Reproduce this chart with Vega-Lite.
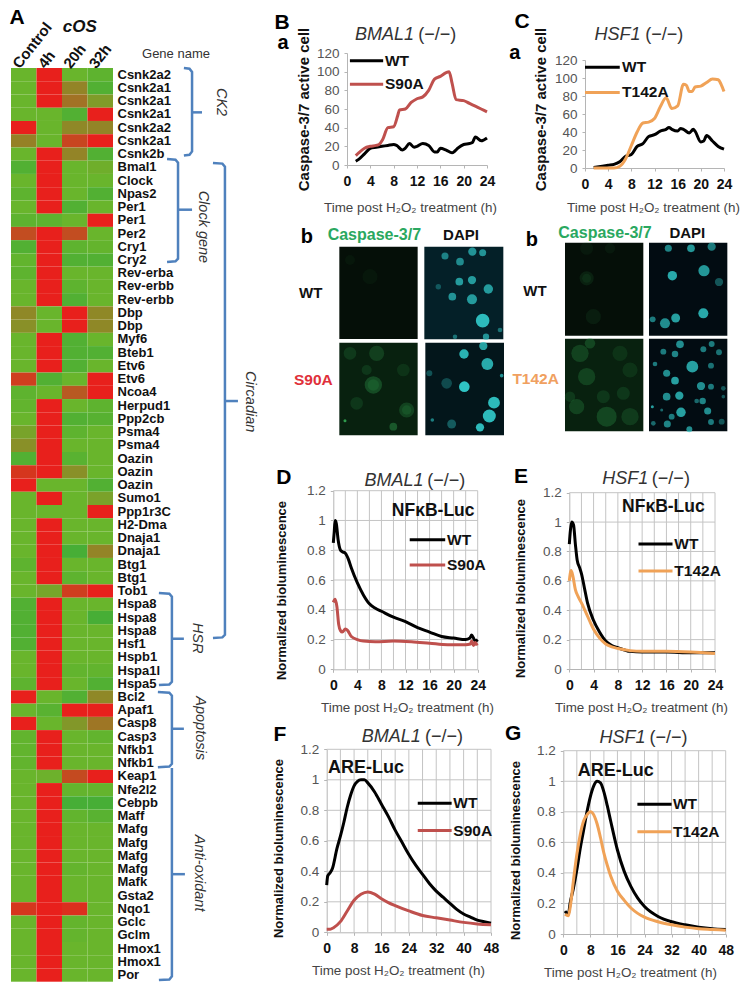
{"$schema":"https://vega.github.io/schema/vega-lite/v6.json","width":747,"height":997,"padding":0,"autosize":{"type":"none"},"background":"white",
"config":{"font":"Liberation Sans","view":{"stroke":null},"axis":{"grid":false,"domainColor":"#b5b5b5","tickColor":"#b5b5b5","tickSize":3,"labelOverlap":false,"labelFlush":false},
"axisX":{"labelFontWeight":"bold","labelFontSize":14,"labelColor":"#111111","labelPadding":6,"titleFontWeight":"normal","titleFontSize":13.4,"titleColor":"#444444"},
"axisY":{"labelFontSize":13.5,"labelColor":"#555555","labelPadding":5,"titleFontWeight":"bold","titleFontSize":13,"titleColor":"#111111"}},
"resolve":{"scale":{"x":"independent","y":"independent","fill":"independent"},"axis":{"x":"independent","y":"independent"}},
"layer":[
{"data":{"values":[
{"r":"01 Csnk2a2","c":"Control","v":0},{"r":"01 Csnk2a2","c":"4h","v":1},{"r":"01 Csnk2a2","c":"20h","v":0},{"r":"01 Csnk2a2","c":"32h","v":-0.05},
{"r":"02 Csnk2a1","c":"Control","v":0},{"r":"02 Csnk2a1","c":"4h","v":1},{"r":"02 Csnk2a1","c":"20h","v":0.33},{"r":"02 Csnk2a1","c":"32h","v":-0.1},
{"r":"03 Csnk2a1","c":"Control","v":0},{"r":"03 Csnk2a1","c":"4h","v":1},{"r":"03 Csnk2a1","c":"20h","v":0.45},{"r":"03 Csnk2a1","c":"32h","v":0.17},
{"r":"04 Csnk2a1","c":"Control","v":0},{"r":"04 Csnk2a1","c":"4h","v":0},{"r":"04 Csnk2a1","c":"20h","v":-0.1},{"r":"04 Csnk2a1","c":"32h","v":1},
{"r":"05 Csnk2a2","c":"Control","v":1},{"r":"05 Csnk2a2","c":"4h","v":0},{"r":"05 Csnk2a2","c":"20h","v":0.3},{"r":"05 Csnk2a2","c":"32h","v":0.33},
{"r":"06 Csnk2a1","c":"Control","v":0.35},{"r":"06 Csnk2a1","c":"4h","v":0},{"r":"06 Csnk2a1","c":"20h","v":0.75},{"r":"06 Csnk2a1","c":"32h","v":1},
{"r":"07 Csnk2b","c":"Control","v":0},{"r":"07 Csnk2b","c":"4h","v":1},{"r":"07 Csnk2b","c":"20h","v":0.33},{"r":"07 Csnk2b","c":"32h","v":-0.1},
{"r":"08 Bmal1","c":"Control","v":-0.1},{"r":"08 Bmal1","c":"4h","v":1},{"r":"08 Bmal1","c":"20h","v":0},{"r":"08 Bmal1","c":"32h","v":0.05},
{"r":"09 Clock","c":"Control","v":0},{"r":"09 Clock","c":"4h","v":1},{"r":"09 Clock","c":"20h","v":0},{"r":"09 Clock","c":"32h","v":0},
{"r":"10 Npas2","c":"Control","v":-0.05},{"r":"10 Npas2","c":"4h","v":1},{"r":"10 Npas2","c":"20h","v":0},{"r":"10 Npas2","c":"32h","v":-0.1},
{"r":"11 Per1","c":"Control","v":0},{"r":"11 Per1","c":"4h","v":1},{"r":"11 Per1","c":"20h","v":-0.1},{"r":"11 Per1","c":"32h","v":0},
{"r":"12 Per1","c":"Control","v":-0.05},{"r":"12 Per1","c":"4h","v":-0.05},{"r":"12 Per1","c":"20h","v":0},{"r":"12 Per1","c":"32h","v":1},
{"r":"13 Per2","c":"Control","v":0.7},{"r":"13 Per2","c":"4h","v":1},{"r":"13 Per2","c":"20h","v":0.7},{"r":"13 Per2","c":"32h","v":0},
{"r":"14 Cry1","c":"Control","v":-0.1},{"r":"14 Cry1","c":"4h","v":1},{"r":"14 Cry1","c":"20h","v":-0.05},{"r":"14 Cry1","c":"32h","v":-0.02},
{"r":"15 Cry2","c":"Control","v":-0.03},{"r":"15 Cry2","c":"4h","v":1},{"r":"15 Cry2","c":"20h","v":-0.1},{"r":"15 Cry2","c":"32h","v":-0.1},
{"r":"16 Rev-erba","c":"Control","v":-0.05},{"r":"16 Rev-erba","c":"4h","v":1},{"r":"16 Rev-erba","c":"20h","v":0},{"r":"16 Rev-erba","c":"32h","v":0},
{"r":"17 Rev-erbb","c":"Control","v":0},{"r":"17 Rev-erbb","c":"4h","v":1},{"r":"17 Rev-erbb","c":"20h","v":-0.05},{"r":"17 Rev-erbb","c":"32h","v":0},
{"r":"18 Rev-erbb","c":"Control","v":0},{"r":"18 Rev-erbb","c":"4h","v":1},{"r":"18 Rev-erbb","c":"20h","v":-0.1},{"r":"18 Rev-erbb","c":"32h","v":0},
{"r":"19 Dbp","c":"Control","v":0.3},{"r":"19 Dbp","c":"4h","v":0},{"r":"19 Dbp","c":"20h","v":1},{"r":"19 Dbp","c":"32h","v":0.3},
{"r":"20 Dbp","c":"Control","v":0.25},{"r":"20 Dbp","c":"4h","v":0},{"r":"20 Dbp","c":"20h","v":1},{"r":"20 Dbp","c":"32h","v":0.3},
{"r":"21 Myf6","c":"Control","v":0},{"r":"21 Myf6","c":"4h","v":1},{"r":"21 Myf6","c":"20h","v":-0.1},{"r":"21 Myf6","c":"32h","v":0},
{"r":"22 Bteb1","c":"Control","v":0},{"r":"22 Bteb1","c":"4h","v":1},{"r":"22 Bteb1","c":"20h","v":-0.1},{"r":"22 Bteb1","c":"32h","v":-0.1},
{"r":"23 Etv6","c":"Control","v":0},{"r":"23 Etv6","c":"4h","v":1},{"r":"23 Etv6","c":"20h","v":-0.1},{"r":"23 Etv6","c":"32h","v":0},
{"r":"24 Etv6","c":"Control","v":0.8},{"r":"24 Etv6","c":"4h","v":-0.1},{"r":"24 Etv6","c":"20h","v":0},{"r":"24 Etv6","c":"32h","v":1},
{"r":"25 Ncoa4","c":"Control","v":-0.05},{"r":"25 Ncoa4","c":"4h","v":0},{"r":"25 Ncoa4","c":"20h","v":0.62},{"r":"25 Ncoa4","c":"32h","v":1},
{"r":"26 Herpud1","c":"Control","v":-0.03},{"r":"26 Herpud1","c":"4h","v":1},{"r":"26 Herpud1","c":"20h","v":0},{"r":"26 Herpud1","c":"32h","v":-0.05},
{"r":"27 Ppp2cb","c":"Control","v":0},{"r":"27 Ppp2cb","c":"4h","v":1},{"r":"27 Ppp2cb","c":"20h","v":-0.1},{"r":"27 Ppp2cb","c":"32h","v":-0.08},
{"r":"28 Psma4","c":"Control","v":0.12},{"r":"28 Psma4","c":"4h","v":1},{"r":"28 Psma4","c":"20h","v":-0.05},{"r":"28 Psma4","c":"32h","v":0},
{"r":"29 Psma4","c":"Control","v":0.25},{"r":"29 Psma4","c":"4h","v":1},{"r":"29 Psma4","c":"20h","v":0},{"r":"29 Psma4","c":"32h","v":0},
{"r":"30 Oazin","c":"Control","v":-0.1},{"r":"30 Oazin","c":"4h","v":1},{"r":"30 Oazin","c":"20h","v":-0.07},{"r":"30 Oazin","c":"32h","v":0},
{"r":"31 Oazin","c":"Control","v":0.85},{"r":"31 Oazin","c":"4h","v":1},{"r":"31 Oazin","c":"20h","v":0.25},{"r":"31 Oazin","c":"32h","v":0},
{"r":"32 Oazin","c":"Control","v":1},{"r":"32 Oazin","c":"4h","v":0},{"r":"32 Oazin","c":"20h","v":0},{"r":"32 Oazin","c":"32h","v":-0.1},
{"r":"33 Sumo1","c":"Control","v":0},{"r":"33 Sumo1","c":"4h","v":1},{"r":"33 Sumo1","c":"20h","v":0},{"r":"33 Sumo1","c":"32h","v":0.13},
{"r":"34 Ppp1r3C","c":"Control","v":0},{"r":"34 Ppp1r3C","c":"4h","v":0},{"r":"34 Ppp1r3C","c":"20h","v":0},{"r":"34 Ppp1r3C","c":"32h","v":1},
{"r":"35 H2-Dma","c":"Control","v":0},{"r":"35 H2-Dma","c":"4h","v":1},{"r":"35 H2-Dma","c":"20h","v":0},{"r":"35 H2-Dma","c":"32h","v":0},
{"r":"36 Dnaja1","c":"Control","v":0},{"r":"36 Dnaja1","c":"4h","v":1},{"r":"36 Dnaja1","c":"20h","v":0},{"r":"36 Dnaja1","c":"32h","v":0},
{"r":"37 Dnaja1","c":"Control","v":0},{"r":"37 Dnaja1","c":"4h","v":1},{"r":"37 Dnaja1","c":"20h","v":-0.15},{"r":"37 Dnaja1","c":"32h","v":0.33},
{"r":"38 Btg1","c":"Control","v":-0.05},{"r":"38 Btg1","c":"4h","v":1},{"r":"38 Btg1","c":"20h","v":0},{"r":"38 Btg1","c":"32h","v":0},
{"r":"39 Btg1","c":"Control","v":0},{"r":"39 Btg1","c":"4h","v":1},{"r":"39 Btg1","c":"20h","v":-0.05},{"r":"39 Btg1","c":"32h","v":0},
{"r":"40 Tob1","c":"Control","v":0},{"r":"40 Tob1","c":"4h","v":0.1},{"r":"40 Tob1","c":"20h","v":0.8},{"r":"40 Tob1","c":"32h","v":1},
{"r":"41 Hspa8","c":"Control","v":-0.1},{"r":"41 Hspa8","c":"4h","v":1},{"r":"41 Hspa8","c":"20h","v":0},{"r":"41 Hspa8","c":"32h","v":0},
{"r":"42 Hspa8","c":"Control","v":-0.1},{"r":"42 Hspa8","c":"4h","v":1},{"r":"42 Hspa8","c":"20h","v":0},{"r":"42 Hspa8","c":"32h","v":-0.15},
{"r":"43 Hspa8","c":"Control","v":-0.1},{"r":"43 Hspa8","c":"4h","v":1},{"r":"43 Hspa8","c":"20h","v":0},{"r":"43 Hspa8","c":"32h","v":0},
{"r":"44 Hsf1","c":"Control","v":-0.1},{"r":"44 Hsf1","c":"4h","v":1},{"r":"44 Hsf1","c":"20h","v":0},{"r":"44 Hsf1","c":"32h","v":0},
{"r":"45 Hspb1","c":"Control","v":0},{"r":"45 Hspb1","c":"4h","v":1},{"r":"45 Hspb1","c":"20h","v":0},{"r":"45 Hspb1","c":"32h","v":0},
{"r":"46 Hspa1l","c":"Control","v":0},{"r":"46 Hspa1l","c":"4h","v":1},{"r":"46 Hspa1l","c":"20h","v":-0.03},{"r":"46 Hspa1l","c":"32h","v":-0.03},
{"r":"47 Hspa5","c":"Control","v":-0.05},{"r":"47 Hspa5","c":"4h","v":1},{"r":"47 Hspa5","c":"20h","v":0},{"r":"47 Hspa5","c":"32h","v":-0.1},
{"r":"48 Bcl2","c":"Control","v":1},{"r":"48 Bcl2","c":"4h","v":0},{"r":"48 Bcl2","c":"20h","v":-0.1},{"r":"48 Bcl2","c":"32h","v":0.3},
{"r":"49 Apaf1","c":"Control","v":0},{"r":"49 Apaf1","c":"4h","v":-0.07},{"r":"49 Apaf1","c":"20h","v":1},{"r":"49 Apaf1","c":"32h","v":1},
{"r":"50 Casp8","c":"Control","v":1},{"r":"50 Casp8","c":"4h","v":0},{"r":"50 Casp8","c":"20h","v":0.2},{"r":"50 Casp8","c":"32h","v":0.42},
{"r":"51 Casp3","c":"Control","v":-0.03},{"r":"51 Casp3","c":"4h","v":1},{"r":"51 Casp3","c":"20h","v":0},{"r":"51 Casp3","c":"32h","v":-0.03},
{"r":"52 Nfkb1","c":"Control","v":-0.03},{"r":"52 Nfkb1","c":"4h","v":1},{"r":"52 Nfkb1","c":"20h","v":0},{"r":"52 Nfkb1","c":"32h","v":0},
{"r":"53 Nfkb1","c":"Control","v":-0.03},{"r":"53 Nfkb1","c":"4h","v":1},{"r":"53 Nfkb1","c":"20h","v":0},{"r":"53 Nfkb1","c":"32h","v":0},
{"r":"54 Keap1","c":"Control","v":0},{"r":"54 Keap1","c":"4h","v":0.03},{"r":"54 Keap1","c":"20h","v":0.72},{"r":"54 Keap1","c":"32h","v":1},
{"r":"55 Nfe2l2","c":"Control","v":0},{"r":"55 Nfe2l2","c":"4h","v":1},{"r":"55 Nfe2l2","c":"20h","v":-0.02},{"r":"55 Nfe2l2","c":"32h","v":-0.02},
{"r":"56 Cebpb","c":"Control","v":0},{"r":"56 Cebpb","c":"4h","v":1},{"r":"56 Cebpb","c":"20h","v":-0.15},{"r":"56 Cebpb","c":"32h","v":-0.15},
{"r":"57 Maff","c":"Control","v":0},{"r":"57 Maff","c":"4h","v":1},{"r":"57 Maff","c":"20h","v":-0.03},{"r":"57 Maff","c":"32h","v":-0.07},
{"r":"58 Mafg","c":"Control","v":0},{"r":"58 Mafg","c":"4h","v":1},{"r":"58 Mafg","c":"20h","v":0},{"r":"58 Mafg","c":"32h","v":0},
{"r":"59 Mafg","c":"Control","v":0},{"r":"59 Mafg","c":"4h","v":1},{"r":"59 Mafg","c":"20h","v":0},{"r":"59 Mafg","c":"32h","v":0},
{"r":"60 Mafg","c":"Control","v":0},{"r":"60 Mafg","c":"4h","v":1},{"r":"60 Mafg","c":"20h","v":0},{"r":"60 Mafg","c":"32h","v":0},
{"r":"61 Mafg","c":"Control","v":0},{"r":"61 Mafg","c":"4h","v":1},{"r":"61 Mafg","c":"20h","v":-0.02},{"r":"61 Mafg","c":"32h","v":0},
{"r":"62 Mafk","c":"Control","v":0},{"r":"62 Mafk","c":"4h","v":1},{"r":"62 Mafk","c":"20h","v":0},{"r":"62 Mafk","c":"32h","v":0},
{"r":"63 Gsta2","c":"Control","v":0},{"r":"63 Gsta2","c":"4h","v":1},{"r":"63 Gsta2","c":"20h","v":0},{"r":"63 Gsta2","c":"32h","v":0},
{"r":"64 Nqo1","c":"Control","v":0.85},{"r":"64 Nqo1","c":"4h","v":1},{"r":"64 Nqo1","c":"20h","v":0.9},{"r":"64 Nqo1","c":"32h","v":0},
{"r":"65 Gclc","c":"Control","v":0},{"r":"65 Gclc","c":"4h","v":1},{"r":"65 Gclc","c":"20h","v":-0.02},{"r":"65 Gclc","c":"32h","v":0},
{"r":"66 Gclm","c":"Control","v":0},{"r":"66 Gclm","c":"4h","v":1},{"r":"66 Gclm","c":"20h","v":-0.02},{"r":"66 Gclm","c":"32h","v":0},
{"r":"67 Hmox1","c":"Control","v":0},{"r":"67 Hmox1","c":"4h","v":1},{"r":"67 Hmox1","c":"20h","v":0},{"r":"67 Hmox1","c":"32h","v":0},
{"r":"68 Hmox1","c":"Control","v":0},{"r":"68 Hmox1","c":"4h","v":1},{"r":"68 Hmox1","c":"20h","v":0},{"r":"68 Hmox1","c":"32h","v":0},
{"r":"69 Por","c":"Control","v":0},{"r":"69 Por","c":"4h","v":1},{"r":"69 Por","c":"20h","v":0},{"r":"69 Por","c":"32h","v":0}
]},"mark":{"type":"rect"},"encoding":{
"x":{"field":"c","type":"nominal","scale":{"type":"band","domain":["Control","4h","20h","32h"],"range":[11,113],"paddingInner":0,"paddingOuter":0},"axis":{"orient":"top","offset":-68,"title":null,"labelAngle":-52,"labelAlign":"left","labelBaseline":"middle","labelFontSize":15,"labelFontWeight":"bold","labelColor":"#111111","labelPadding":2,"labelOffset":-8,"ticks":false,"domain":false}},
"y":{"field":"r","type":"nominal","scale":{"type":"band","range":[68,981.7],"paddingInner":0,"paddingOuter":0},"axis":{"orient":"right","offset":-634,"title":null,"labelExpr":"slice(datum.value,3)","labelFontSize":13,"labelFontWeight":"bold","labelColor":"#111111","labelPadding":4,"ticks":false,"domain":false}},
"fill":{"field":"v","type":"quantitative","scale":{"domain":[-0.15,0,1],"range":["#47ae36","#69b52c","#e8201c"],"interpolate":"rgb"},"legend":null}}},

{"encoding":{"x":{"field":"cx","type":"quantitative","scale":{"domain":[0,4],"range":[11,113],"nice":false,"zero":false},"axis":null},"y":{"field":"ry","type":"quantitative","scale":{"domain":[0,69],"range":[68,981.7],"nice":false,"zero":false},"axis":null}},
"layer":[
{"data":{"values":[
{"b":"CK2","i":1,"cx":6.78,"ry":0},{"b":"CK2","i":2,"cx":7.0,"ry":0.05},{"b":"CK2","i":3,"cx":7.1,"ry":0.3},{"b":"CK2","i":4,"cx":7.1,"ry":6.3},{"b":"CK2","i":5,"cx":7.0,"ry":6.55},{"b":"CK2","i":6,"cx":6.78,"ry":6.6},
{"b":"CK2m","i":1,"cx":7.1,"ry":3.35},{"b":"CK2m","i":2,"cx":7.49,"ry":3.35},
{"b":"Clock","i":1,"cx":6.12,"ry":6.87},{"b":"Clock","i":2,"cx":6.45,"ry":6.92},{"b":"Clock","i":3,"cx":6.55,"ry":7.15},{"b":"Clock","i":4,"cx":6.55,"ry":14.4},{"b":"Clock","i":5,"cx":6.45,"ry":14.6},{"b":"Clock","i":6,"cx":6.12,"ry":14.65},
{"b":"Clockm","i":1,"cx":6.55,"ry":10.7},{"b":"Clockm","i":2,"cx":7.1,"ry":10.7},
{"b":"Circ","i":1,"cx":7.92,"ry":7.17},{"b":"Circ","i":2,"cx":8.29,"ry":7.22},{"b":"Circ","i":3,"cx":8.39,"ry":7.45},{"b":"Circ","i":4,"cx":8.39,"ry":42.8},{"b":"Circ","i":5,"cx":8.29,"ry":43},{"b":"Circ","i":6,"cx":7.92,"ry":43.05},
{"b":"Circm","i":1,"cx":8.39,"ry":25.15},{"b":"Circm","i":2,"cx":8.9,"ry":25.15},
{"b":"HSR","i":1,"cx":5.8,"ry":39.65},{"b":"HSR","i":2,"cx":6.21,"ry":39.7},{"b":"HSR","i":3,"cx":6.31,"ry":39.93},{"b":"HSR","i":4,"cx":6.31,"ry":46.35},{"b":"HSR","i":5,"cx":6.21,"ry":46.55},{"b":"HSR","i":6,"cx":5.8,"ry":46.6},
{"b":"HSRm","i":1,"cx":6.31,"ry":43.1},{"b":"HSRm","i":2,"cx":6.78,"ry":43.1},
{"b":"Apo","i":1,"cx":5.76,"ry":47.13},{"b":"Apo","i":2,"cx":6.21,"ry":47.18},{"b":"Apo","i":3,"cx":6.31,"ry":47.4},{"b":"Apo","i":4,"cx":6.31,"ry":52.55},{"b":"Apo","i":5,"cx":6.21,"ry":52.75},{"b":"Apo","i":6,"cx":5.76,"ry":52.8},
{"b":"Apom","i":1,"cx":6.31,"ry":49.9},{"b":"Apom","i":2,"cx":6.78,"ry":49.9},
{"b":"Anti","i":1,"cx":6.31,"ry":52.87},{"b":"Anti","i":2,"cx":6.31,"ry":68.6},{"b":"Anti","i":3,"cx":6.21,"ry":68.83},{"b":"Anti","i":4,"cx":5.8,"ry":68.88},
{"b":"Antim","i":1,"cx":6.31,"ry":60.88},{"b":"Antim","i":2,"cx":6.82,"ry":60.88}
]},"mark":{"type":"line","color":"#4f81bd","strokeWidth":2.5},"encoding":{"detail":{"field":"b"},"order":{"field":"i","type":"quantitative"}}},
{"data":{"values":[{"cx":8.24,"ry":2.57,"l":"CK2"},{"cx":7.53,"ry":12,"l":"Clock gene"},{"cx":9.37,"ry":25.2,"l":"Circadian"},{"cx":7.29,"ry":43.05,"l":"HSR"},{"cx":7.41,"ry":49.85,"l":"Apoptosis"},{"cx":7.37,"ry":60.8,"l":"Anti-oxidant"}]},"mark":{"type":"text","angle":90,"fontStyle":"italic","fontSize":14.5,"color":"#333333","align":"center","baseline":"middle"},"encoding":{"text":{"field":"l"}}},
{"data":{"values":[{"cx":6.47,"ry":-1.06,"l":"Gene name"}]},"mark":{"type":"text","fontSize":13,"color":"#333333"},"encoding":{"text":{"field":"l"}}},
{"data":{"values":[{"cx":2.7,"ry":-3.1,"l":"cOS"}]},"mark":{"type":"text","fontSize":17,"fontStyle":"italic","fontWeight":"bold","color":"#111111"},"encoding":{"text":{"field":"l"}}},
{"data":{"values":[{"cx":0.24,"ry":-3.78,"l":"A"},{"cx":10.63,"ry":-3.4,"l":"B"},{"cx":20.04,"ry":-3.47,"l":"C"},{"cx":10.7,"ry":30.97,"l":"D"},{"cx":20,"ry":30.9,"l":"E"},{"cx":10.55,"ry":50.4,"l":"F"},{"cx":19.69,"ry":50.3,"l":"G"}]},"mark":{"type":"text","fontSize":21,"fontWeight":"bold","color":"#000000"},"encoding":{"text":{"field":"l"}}},
{"data":{"values":[{"cx":10.67,"ry":-1.89,"l":"a"},{"cx":19.76,"ry":-1.13,"l":"a"},{"cx":11.6,"ry":12.76,"l":"b"},{"cx":20.43,"ry":12.99,"l":"b"}]},"mark":{"type":"text","fontSize":20,"fontWeight":"bold","color":"#000000"},"encoding":{"text":{"field":"l"}}}
]},

{"encoding":{"x":{"field":"mx","type":"quantitative","scale":{"domain":[208,1372],"range":[339.33,727.33],"nice":false,"zero":false},"axis":null},"y":{"field":"my","type":"quantitative","scale":{"domain":[68,646],"range":[242.67,435.33],"nice":false,"zero":false},"axis":null}},
"layer":[
{"data":{"values":[
{"mx":208,"mx2":443,"my":80,"my2":357,"k":"caspase low"},{"mx":463,"mx2":700,"my":80,"my2":358,"k":"dapi"},
{"mx":208,"mx2":443,"my":368,"my2":646,"k":"caspase high"},{"mx":466,"mx2":702,"my":368,"my2":646,"k":"dapi2"},
{"mx":885,"mx2":1120,"my":68,"my2":347,"k":"caspase low"},{"mx":1137,"mx2":1372,"my":68,"my2":347,"k":"dapi dark"},
{"mx":885,"mx2":1120,"my":356,"my2":634,"k":"caspase high"},{"mx":1137,"mx2":1372,"my":356,"my2":634,"k":"dapi dark"}
]},"mark":{"type":"rect"},"encoding":{"x2":{"field":"mx2"},"y2":{"field":"my2"},"fill":{"field":"k","type":"nominal","scale":{"domain":["caspase low","caspase high","dapi","dapi2","dapi dark"],"range":["#050f08","#08210f","#042028","#03161b","#020c12"]},"legend":null}}},
{"data":{"values":[
{"mx":300,"my":170,"s":230,"o":0.06},{"mx":240,"my":120,"s":100,"o":0.06},{"mx":320,"my":400,"s":230,"o":0.25},{"mx":310,"my":495,"s":300,"o":0.35},{"mx":310,"my":495,"s":130,"o":0.2},{"mx":410,"my":570,"s":230,"o":0.28},{"mx":410,"my":570,"s":90,"o":0.2},{"mx":370,"my":620,"s":60,"o":0.45},{"mx":225,"my":602,"s":9,"o":1},{"mx":260,"my":550,"s":160,"o":0.18},{"mx":240,"my":400,"s":160,"o":0.2},{"mx":400,"my":450,"s":160,"o":0.15},{"mx":290,"my":450,"s":100,"o":0.18},
{"mx":950,"my":175,"s":200,"o":0.13},{"mx":950,"my":175,"s":80,"o":0.1},{"mx":970,"my":290,"s":230,"o":0.1},{"mx":950,"my":85,"s":170,"o":0.08},{"mx":1020,"my":85,"s":110,"o":0.08},
{"mx":930,"my":400,"s":300,"o":0.28},{"mx":1050,"my":400,"s":230,"o":0.15},{"mx":950,"my":470,"s":300,"o":0.28},{"mx":1080,"my":450,"s":230,"o":0.15},{"mx":920,"my":560,"s":230,"o":0.28},{"mx":1010,"my":590,"s":400,"o":0.3},{"mx":1080,"my":590,"s":300,"o":0.22},{"mx":1000,"my":530,"s":170,"o":0.18},{"mx":1060,"my":520,"s":170,"o":0.18},{"mx":900,"my":530,"s":110,"o":0.2},{"mx":960,"my":370,"s":110,"o":0.3}
]},"mark":{"type":"circle","color":"#2f9a4c"},"encoding":{"size":{"field":"s","type":"quantitative","scale":null},"opacity":{"field":"o","type":"quantitative","scale":null}}},
{"data":{"values":[
{"mx":607,"my":95,"s":68,"o":0.7},{"mx":638,"my":98,"s":50,"o":0.7},{"mx":525,"my":108,"s":50,"o":0.6},{"mx":570,"my":125,"s":59,"o":0.65},{"mx":568,"my":185,"s":59,"o":0.75},{"mx":606,"my":180,"s":68,"o":0.75},{"mx":655,"my":207,"s":89,"o":0.75},{"mx":547,"my":230,"s":59,"o":0.7},{"mx":606,"my":238,"s":101,"o":0.75},{"mx":638,"my":302,"s":185,"o":0.95},{"mx":505,"my":200,"s":30,"o":0.35},{"mx":690,"my":330,"s":22,"o":0.5},{"mx":648,"my":350,"s":40,"o":0.7},{"mx":555,"my":350,"s":20,"o":0.5},
{"mx":582,"my":402,"s":89,"o":0.9},{"mx":640,"my":378,"s":68,"o":0.8},{"mx":652,"my":432,"s":140,"o":0.85},{"mx":583,"my":500,"s":113,"o":1},{"mx":672,"my":548,"s":140,"o":0.95},{"mx":658,"my":588,"s":169,"o":0.95},{"mx":630,"my":622,"s":68,"o":0.95},{"mx":478,"my":460,"s":35,"o":0.35},{"mx":530,"my":490,"s":113,"o":0.3},{"mx":545,"my":612,"s":79,"o":0.4},{"mx":695,"my":467,"s":13,"o":0.7},{"mx":487,"my":600,"s":13,"o":0.6},
{"mx":1195,"my":85,"s":50,"o":0.65},{"mx":1263,"my":85,"s":59,"o":0.75},{"mx":1325,"my":80,"s":68,"o":0.6},{"mx":1207,"my":167,"s":89,"o":0.85},{"mx":1302,"my":152,"s":126,"o":0.75},{"mx":1347,"my":186,"s":68,"o":0.4},{"mx":1300,"my":280,"s":101,"o":0.85},{"mx":1217,"my":294,"s":79,"o":0.8},{"mx":1185,"my":310,"s":101,"o":0.7},{"mx":1148,"my":298,"s":35,"o":0.6},
{"mx":1230,"my":373,"s":59,"o":0.7},{"mx":1180,"my":395,"s":35,"o":0.6},{"mx":1215,"my":402,"s":42,"o":0.65},{"mx":1300,"my":388,"s":35,"o":0.6},{"mx":1325,"my":372,"s":35,"o":0.6},{"mx":1347,"my":397,"s":35,"o":0.55},{"mx":1267,"my":440,"s":140,"o":0.8},{"mx":1155,"my":432,"s":22,"o":0.6},{"mx":1190,"my":460,"s":50,"o":0.7},{"mx":1215,"my":482,"s":59,"o":0.8},{"mx":1323,"my":437,"s":35,"o":0.55},{"mx":1293,"my":498,"s":68,"o":0.7},{"mx":1323,"my":500,"s":35,"o":0.6},{"mx":1360,"my":505,"s":22,"o":0.4},{"mx":1190,"my":530,"s":59,"o":0.7},{"mx":1228,"my":527,"s":68,"o":0.8},{"mx":1280,"my":543,"s":22,"o":0.5},{"mx":1298,"my":543,"s":42,"o":0.65},{"mx":1360,"my":530,"s":13,"o":0.4},{"mx":1233,"my":577,"s":89,"o":0.8},{"mx":1205,"my":590,"s":35,"o":0.6},{"mx":1313,"my":573,"s":50,"o":0.7},{"mx":1147,"my":560,"s":9,"o":0.8},{"mx":1150,"my":610,"s":22,"o":0.5},{"mx":1192,"my":612,"s":50,"o":0.65},{"mx":1258,"my":628,"s":35,"o":0.7},{"mx":1323,"my":606,"s":35,"o":0.6},{"mx":1355,"my":605,"s":35,"o":0.4},{"mx":1175,"my":570,"s":9,"o":0.5}
]},"mark":{"type":"circle","color":"#2fc4c4"},"encoding":{"size":{"field":"s","type":"quantitative","scale":null},"opacity":{"field":"o","type":"quantitative","scale":null}}},
{"data":{"values":[{"mx":313,"my":45,"l":"Caspase-3/7"},{"mx":1005,"my":40,"l":"Caspase-3/7"}]},"mark":{"type":"text","fontSize":16,"fontWeight":"bold","color":"#2aa860"},"encoding":{"text":{"field":"l"}}},
{"data":{"values":[{"mx":573,"my":45,"l":"DAPI"},{"mx":1252,"my":40,"l":"DAPI"},{"mx":122,"my":220,"l":"WT"},{"mx":795,"my":212,"l":"WT"}]},"mark":{"type":"text","fontSize":15,"fontWeight":"bold","color":"#111111"},"encoding":{"text":{"field":"l"}}},
{"data":{"values":[{"mx":130,"my":480,"l":"S90A"}]},"mark":{"type":"text","fontSize":15.5,"fontWeight":"bold","color":"#e0303a"},"encoding":{"text":{"field":"l"}}},
{"data":{"values":[{"mx":797,"my":478,"l":"T142A"}]},"mark":{"type":"text","fontSize":15.5,"fontWeight":"bold","color":"#f0a060"},"encoding":{"text":{"field":"l"}}}
]},

{"encoding":{"x":{"field":"t","type":"quantitative","scale":{"domain":[0,24],"range":[347,487],"nice":false},"axis":{"orient":"bottom","offset":-832,"values":[0,4,8,12,16,20,24],"title":"Time post H₂O₂ treatment (h)","titleX":410,"titleY":35}},"y":{"field":"v","type":"quantitative","scale":{"domain":[0,120],"range":[165,53],"nice":false},"axis":{"orient":"left","offset":-347,"values":[0,20,40,60,80,100,120],"title":"Caspase-3/7 active cell","titleX":-36,"titleY":109,"titleFontSize":15}}},
"layer":[
{"data":{"values":[
{"s":"WT","t":1.5,"v":4},{"s":"WT","t":2,"v":6},{"s":"WT","t":3,"v":12},{"s":"WT","t":4,"v":18},{"s":"WT","t":5,"v":19},{"s":"WT","t":6,"v":20},{"s":"WT","t":7,"v":21},{"s":"WT","t":8,"v":22},{"s":"WT","t":8.5,"v":21},{"s":"WT","t":9.5,"v":16},{"s":"WT","t":10,"v":18},{"s":"WT","t":10.7,"v":23},{"s":"WT","t":11.5,"v":19},{"s":"WT","t":12,"v":20},{"s":"WT","t":13,"v":23},{"s":"WT","t":14,"v":21},{"s":"WT","t":15,"v":14},{"s":"WT","t":15.5,"v":14},{"s":"WT","t":16,"v":18},{"s":"WT","t":17,"v":16},{"s":"WT","t":18,"v":13},{"s":"WT","t":18.5,"v":15},{"s":"WT","t":19,"v":18},{"s":"WT","t":20,"v":22},{"s":"WT","t":21,"v":23},{"s":"WT","t":21.5,"v":24},{"s":"WT","t":22,"v":30},{"s":"WT","t":23,"v":26},{"s":"WT","t":24,"v":29},
{"s":"S90A","t":1.5,"v":10},{"s":"S90A","t":2,"v":13},{"s":"S90A","t":3,"v":18},{"s":"S90A","t":4,"v":20},{"s":"S90A","t":5,"v":21},{"s":"S90A","t":5.5,"v":22},{"s":"S90A","t":6.1,"v":27},{"s":"S90A","t":7,"v":40},{"s":"S90A","t":8,"v":41},{"s":"S90A","t":8.7,"v":53},{"s":"S90A","t":9,"v":59},{"s":"S90A","t":10,"v":60},{"s":"S90A","t":11,"v":67},{"s":"S90A","t":12,"v":71},{"s":"S90A","t":13,"v":73},{"s":"S90A","t":14,"v":80},{"s":"S90A","t":15,"v":92},{"s":"S90A","t":16,"v":95},{"s":"S90A","t":17,"v":99},{"s":"S90A","t":17.5,"v":100},{"s":"S90A","t":18,"v":88},{"s":"S90A","t":18.7,"v":70},{"s":"S90A","t":20,"v":69},{"s":"S90A","t":21,"v":66},{"s":"S90A","t":22,"v":63},{"s":"S90A","t":23,"v":60},{"s":"S90A","t":24,"v":57}
]},"mark":{"type":"line","strokeWidth":3,"interpolate":"monotone"},"encoding":{"color":{"field":"s","type":"nominal","scale":{"domain":["WT","S90A","T142A"],"range":["#000000","#bf504d","#f0a257"]},"legend":null}}},
{"data":{"values":[{"s":"WT","t":0.5,"v":111.7},{"s":"WT","t":6.2,"v":111.7},{"s":"S90A","t":0.5,"v":86.5},{"s":"S90A","t":6.2,"v":86.5}]},"mark":{"type":"line","strokeWidth":3},"encoding":{"color":{"field":"s","type":"nominal","legend":null}}},
{"data":{"values":[{"t":6.5,"v":111.7,"l":"WT"},{"t":6.5,"v":86.5,"l":"S90A"}]},"mark":{"type":"text","align":"left","fontSize":15.5,"fontWeight":"bold","color":"#111111"},"encoding":{"text":{"field":"l"}}},
{"data":{"values":[{"t":11.5,"v":139.5,"l":"BMAL1"}]},"mark":{"type":"text","align":"right","fontSize":18,"fontStyle":"italic","color":"#333333"},"encoding":{"text":{"field":"l"}}},
{"data":{"values":[{"t":12.2,"v":139.5,"l":"(−/−)"}]},"mark":{"type":"text","align":"left","fontSize":18,"color":"#333333"},"encoding":{"text":{"field":"l"}}}
]},

{"encoding":{"x":{"field":"t","type":"quantitative","scale":{"domain":[0,24],"range":[585,724],"nice":false},"axis":{"orient":"bottom","offset":-829,"values":[0,4,8,12,16,20,24],"title":"Time post H₂O₂ treatment (h)","titleX":653,"titleY":32}},"y":{"field":"v","type":"quantitative","scale":{"domain":[0,120],"range":[168,60],"nice":false},"axis":{"orient":"left","offset":-585,"values":[0,20,40,60,80,100,120],"title":"Caspase-3/7 active cell","titleX":-37,"titleY":109,"titleFontSize":15}}},
"layer":[
{"data":{"values":[
{"s":"WT","t":1.5,"v":0.5},{"s":"WT","t":3,"v":2},{"s":"WT","t":4,"v":3},{"s":"WT","t":5,"v":4},{"s":"WT","t":6,"v":7},{"s":"WT","t":7,"v":13},{"s":"WT","t":7.5,"v":14},{"s":"WT","t":8,"v":15},{"s":"WT","t":9,"v":24},{"s":"WT","t":10,"v":27},{"s":"WT","t":11,"v":35},{"s":"WT","t":12,"v":37},{"s":"WT","t":13,"v":41},{"s":"WT","t":14,"v":43},{"s":"WT","t":14.5,"v":45},{"s":"WT","t":15,"v":43},{"s":"WT","t":16,"v":41},{"s":"WT","t":16.5,"v":44},{"s":"WT","t":17,"v":43},{"s":"WT","t":18,"v":39},{"s":"WT","t":18.7,"v":43},{"s":"WT","t":19,"v":41},{"s":"WT","t":20,"v":29},{"s":"WT","t":20.5,"v":30},{"s":"WT","t":21,"v":36},{"s":"WT","t":22,"v":30},{"s":"WT","t":23,"v":24},{"s":"WT","t":24,"v":21},
{"s":"T142A","t":1.5,"v":0},{"s":"T142A","t":3,"v":0},{"s":"T142A","t":5,"v":0},{"s":"T142A","t":6,"v":2},{"s":"T142A","t":7,"v":10},{"s":"T142A","t":8,"v":25},{"s":"T142A","t":9,"v":40},{"s":"T142A","t":10,"v":50},{"s":"T142A","t":11,"v":51},{"s":"T142A","t":12,"v":55},{"s":"T142A","t":13,"v":68},{"s":"T142A","t":14,"v":78},{"s":"T142A","t":15,"v":66},{"s":"T142A","t":16,"v":69},{"s":"T142A","t":17,"v":93},{"s":"T142A","t":17.5,"v":92},{"s":"T142A","t":18,"v":85},{"s":"T142A","t":18.5,"v":85},{"s":"T142A","t":19,"v":90},{"s":"T142A","t":20,"v":91},{"s":"T142A","t":21,"v":95},{"s":"T142A","t":22,"v":99},{"s":"T142A","t":23,"v":98},{"s":"T142A","t":23.5,"v":93},{"s":"T142A","t":24,"v":85}
]},"mark":{"type":"line","strokeWidth":3,"interpolate":"monotone"},"encoding":{"color":{"field":"s","type":"nominal","legend":null}}},
{"data":{"values":[{"s":"WT","t":0,"v":112},{"s":"WT","t":6,"v":112},{"s":"T142A","t":0,"v":84},{"s":"T142A","t":6,"v":84}]},"mark":{"type":"line","strokeWidth":3},"encoding":{"color":{"field":"s","type":"nominal","legend":null}}},
{"data":{"values":[{"t":6.4,"v":112,"l":"WT"},{"t":6.4,"v":84,"l":"T142A"}]},"mark":{"type":"text","align":"left","fontSize":15.5,"fontWeight":"bold","color":"#111111"},"encoding":{"text":{"field":"l"}}},
{"data":{"values":[{"t":9.6,"v":147.7,"l":"HSF1"}]},"mark":{"type":"text","align":"right","fontSize":18,"fontStyle":"italic","color":"#333333"},"encoding":{"text":{"field":"l"}}},
{"data":{"values":[{"t":10.4,"v":147.7,"l":"(−/−)"}]},"mark":{"type":"text","align":"left","fontSize":18,"color":"#333333"},"encoding":{"text":{"field":"l"}}}
]},

{"encoding":{"x":{"field":"t","type":"quantitative","scale":{"domain":[0,24],"range":[333.3,477.7],"nice":false},"axis":{"orient":"bottom","offset":-327.7,"values":[0,4,8,12,16,20,24],"title":"Time post H₂O₂ treatment (h)","titleX":407,"titleY":31}},"y":{"field":"v","type":"quantitative","scale":{"domain":[0,1.2],"range":[669.3,490.7],"nice":false},"axis":{"orient":"left","offset":-333.3,"values":[0,0.2,0.4,0.6,0.8,1,1.2],"format":"~g","title":"Normalized bioluminescence","titleX":-45,"titleY":590}}},
"layer":[
{"data":{"values":[{"t":2,"t2":2,"v":0,"v2":1.2},{"t":4,"t2":4,"v":0,"v2":1.2},{"t":6,"t2":6,"v":0,"v2":1.2},{"t":8,"t2":8,"v":0,"v2":1.2},{"t":10,"t2":10,"v":0,"v2":1.2},{"t":12,"t2":12,"v":0,"v2":1.2},{"t":14,"t2":14,"v":0,"v2":1.2},{"t":16,"t2":16,"v":0,"v2":1.2},{"t":18,"t2":18,"v":0,"v2":1.2},{"t":20,"t2":20,"v":0,"v2":1.2},{"t":22,"t2":22,"v":0,"v2":1.2},{"t":24,"t2":24,"v":0,"v2":1.2},{"t":0,"t2":24,"v":0.2,"v2":0.2},{"t":0,"t2":24,"v":0.4,"v2":0.4},{"t":0,"t2":24,"v":0.6,"v2":0.6},{"t":0,"t2":24,"v":0.8,"v2":0.8},{"t":0,"t2":24,"v":1,"v2":1},{"t":0,"t2":24,"v":1.2,"v2":1.2}]},"mark":{"type":"rule","color":"#c4c4c4","strokeWidth":1},"encoding":{"x2":{"field":"t2"},"y2":{"field":"v2"}}},
{"data":{"values":[
{"s":"WT","t":0,"v":0.85},{"s":"WT","t":0.15,"v":0.92},{"s":"WT","t":0.3,"v":1},{"s":"WT","t":0.5,"v":0.98},{"s":"WT","t":0.8,"v":0.87},{"s":"WT","t":1.2,"v":0.8},{"s":"WT","t":1.5,"v":0.79},{"s":"WT","t":2,"v":0.78},{"s":"WT","t":2.5,"v":0.74},{"s":"WT","t":3,"v":0.68},{"s":"WT","t":4,"v":0.58},{"s":"WT","t":5,"v":0.5},{"s":"WT","t":6,"v":0.44},{"s":"WT","t":7,"v":0.41},{"s":"WT","t":8,"v":0.39},{"s":"WT","t":10,"v":0.35},{"s":"WT","t":12,"v":0.32},{"s":"WT","t":14,"v":0.28},{"s":"WT","t":16,"v":0.25},{"s":"WT","t":18,"v":0.22},{"s":"WT","t":20,"v":0.21},{"s":"WT","t":22,"v":0.2},{"s":"WT","t":22.7,"v":0.21},{"s":"WT","t":23,"v":0.23},{"s":"WT","t":23.3,"v":0.21},{"s":"WT","t":23.6,"v":0.19},{"s":"WT","t":24,"v":0.2},
{"s":"S90A","t":0,"v":0.45},{"s":"S90A","t":0.3,"v":0.47},{"s":"S90A","t":0.6,"v":0.42},{"s":"S90A","t":0.9,"v":0.3},{"s":"S90A","t":1.2,"v":0.26},{"s":"S90A","t":1.5,"v":0.25},{"s":"S90A","t":2,"v":0.27},{"s":"S90A","t":2.4,"v":0.26},{"s":"S90A","t":3,"v":0.22},{"s":"S90A","t":4,"v":0.2},{"s":"S90A","t":5,"v":0.19},{"s":"S90A","t":7,"v":0.185},{"s":"S90A","t":10,"v":0.19},{"s":"S90A","t":13,"v":0.185},{"s":"S90A","t":16,"v":0.175},{"s":"S90A","t":19,"v":0.165},{"s":"S90A","t":22,"v":0.165},{"s":"S90A","t":22.8,"v":0.17},{"s":"S90A","t":23,"v":0.19},{"s":"S90A","t":23.3,"v":0.16},{"s":"S90A","t":23.6,"v":0.18},{"s":"S90A","t":23.9,"v":0.16}
]},"mark":{"type":"line","strokeWidth":3,"interpolate":"monotone"},"encoding":{"color":{"field":"s","type":"nominal","legend":null}}},
{"data":{"values":[{"s":"WT","t":12.7,"v":0.87},{"s":"WT","t":18.6,"v":0.87},{"s":"S90A","t":12.7,"v":0.7},{"s":"S90A","t":18.6,"v":0.7}]},"mark":{"type":"line","strokeWidth":3},"encoding":{"color":{"field":"s","type":"nominal","legend":null}}},
{"data":{"values":[{"t":18.9,"v":0.87,"l":"WT"},{"t":18.9,"v":0.7,"l":"S90A"}]},"mark":{"type":"text","align":"left","fontSize":15.5,"fontWeight":"bold","color":"#111111"},"encoding":{"text":{"field":"l"}}},
{"data":{"values":[{"t":16.6,"v":1.066,"l":"NFκB-Luc"}]},"mark":{"type":"text","fontSize":17.5,"fontWeight":"bold","color":"#111111"},"encoding":{"text":{"field":"l"}}},
{"data":{"values":[{"t":15,"v":1.267,"l":"BMAL1"}]},"mark":{"type":"text","align":"right","fontSize":18,"fontStyle":"italic","color":"#333333"},"encoding":{"text":{"field":"l"}}},
{"data":{"values":[{"t":15.6,"v":1.267,"l":"(−/−)"}]},"mark":{"type":"text","align":"left","fontSize":18,"color":"#333333"},"encoding":{"text":{"field":"l"}}}
]},

{"encoding":{"x":{"field":"t","type":"quantitative","scale":{"domain":[0,24],"range":[569.3,715],"nice":false},"axis":{"orient":"bottom","offset":-328,"values":[0,4,8,12,16,20,24],"title":"Time post H₂O₂ treatment (h)","titleX":641,"titleY":31}},"y":{"field":"v","type":"quantitative","scale":{"domain":[0,1.2],"range":[669,492.7],"nice":false},"axis":{"orient":"left","offset":-569.3,"values":[0,0.2,0.4,0.6,0.8,1,1.2],"format":"~g","title":"Normalized bioluminescence","titleX":-42,"titleY":588}}},
"layer":[
{"data":{"values":[{"t":2,"t2":2,"v":0,"v2":1.2},{"t":4,"t2":4,"v":0,"v2":1.2},{"t":6,"t2":6,"v":0,"v2":1.2},{"t":8,"t2":8,"v":0,"v2":1.2},{"t":10,"t2":10,"v":0,"v2":1.2},{"t":12,"t2":12,"v":0,"v2":1.2},{"t":14,"t2":14,"v":0,"v2":1.2},{"t":16,"t2":16,"v":0,"v2":1.2},{"t":18,"t2":18,"v":0,"v2":1.2},{"t":20,"t2":20,"v":0,"v2":1.2},{"t":22,"t2":22,"v":0,"v2":1.2},{"t":24,"t2":24,"v":0,"v2":1.2},{"t":0,"t2":24,"v":0.2,"v2":0.2},{"t":0,"t2":24,"v":0.4,"v2":0.4},{"t":0,"t2":24,"v":0.6,"v2":0.6},{"t":0,"t2":24,"v":0.8,"v2":0.8},{"t":0,"t2":24,"v":1,"v2":1},{"t":0,"t2":24,"v":1.2,"v2":1.2}]},"mark":{"type":"rule","color":"#c4c4c4","strokeWidth":1},"encoding":{"x2":{"field":"t2"},"y2":{"field":"v2"}}},
{"data":{"values":[
{"s":"WT","t":0,"v":0.85},{"s":"WT","t":0.2,"v":0.95},{"s":"WT","t":0.4,"v":1},{"s":"WT","t":0.7,"v":0.98},{"s":"WT","t":1,"v":0.85},{"s":"WT","t":1.3,"v":0.74},{"s":"WT","t":1.7,"v":0.69},{"s":"WT","t":2,"v":0.65},{"s":"WT","t":2.5,"v":0.55},{"s":"WT","t":3,"v":0.45},{"s":"WT","t":4,"v":0.33},{"s":"WT","t":5,"v":0.25},{"s":"WT","t":6,"v":0.19},{"s":"WT","t":7,"v":0.16},{"s":"WT","t":8,"v":0.145},{"s":"WT","t":10,"v":0.12},{"s":"WT","t":12,"v":0.115},{"s":"WT","t":16,"v":0.115},{"s":"WT","t":20,"v":0.11},{"s":"WT","t":24,"v":0.11},
{"s":"T142A","t":0,"v":0.6},{"s":"T142A","t":0.3,"v":0.67},{"s":"T142A","t":0.6,"v":0.63},{"s":"T142A","t":1,"v":0.54},{"s":"T142A","t":1.5,"v":0.49},{"s":"T142A","t":2,"v":0.45},{"s":"T142A","t":3,"v":0.36},{"s":"T142A","t":4,"v":0.27},{"s":"T142A","t":5,"v":0.21},{"s":"T142A","t":6,"v":0.17},{"s":"T142A","t":7,"v":0.15},{"s":"T142A","t":8,"v":0.14},{"s":"T142A","t":10,"v":0.125},{"s":"T142A","t":12,"v":0.12},{"s":"T142A","t":16,"v":0.12},{"s":"T142A","t":20,"v":0.115},{"s":"T142A","t":24,"v":0.105}
]},"mark":{"type":"line","strokeWidth":3,"interpolate":"monotone"},"encoding":{"color":{"field":"s","type":"nominal","legend":null}}},
{"data":{"values":[{"s":"WT","t":11.4,"v":0.85},{"s":"WT","t":17,"v":0.85},{"s":"T142A","t":11.4,"v":0.667},{"s":"T142A","t":17,"v":0.667}]},"mark":{"type":"line","strokeWidth":3},"encoding":{"color":{"field":"s","type":"nominal","legend":null}}},
{"data":{"values":[{"t":17.3,"v":0.85,"l":"WT"},{"t":17.3,"v":0.667,"l":"T142A"}]},"mark":{"type":"text","align":"left","fontSize":15.5,"fontWeight":"bold","color":"#111111"},"encoding":{"text":{"field":"l"}}},
{"data":{"values":[{"t":15.5,"v":1.105,"l":"NFκB-Luc"}]},"mark":{"type":"text","fontSize":17.5,"fontWeight":"bold","color":"#111111"},"encoding":{"text":{"field":"l"}}},
{"data":{"values":[{"t":13,"v":1.29,"l":"HSF1"}]},"mark":{"type":"text","align":"right","fontSize":18,"fontStyle":"italic","color":"#333333"},"encoding":{"text":{"field":"l"}}},
{"data":{"values":[{"t":13.6,"v":1.29,"l":"(−/−)"}]},"mark":{"type":"text","align":"left","fontSize":18,"color":"#333333"},"encoding":{"text":{"field":"l"}}}
]},

{"encoding":{"x":{"field":"t","type":"quantitative","scale":{"domain":[0,48],"range":[326.7,491],"nice":false},"axis":{"orient":"bottom","offset":-64.7,"values":[0,8,16,24,32,40,48],"title":"Time post H₂O₂ treatment (h)","titleX":398,"titleY":31}},"y":{"field":"v","type":"quantitative","scale":{"domain":[0,1.2],"range":[932.3,749.3],"nice":false},"axis":{"orient":"left","offset":-326.7,"values":[0,0.2,0.4,0.6,0.8,1,1.2],"format":"~g","title":"Normalized bioluminescence","titleX":-41,"titleY":848}}},
"layer":[
{"data":{"values":[{"t":4,"t2":4,"v":0,"v2":1.2},{"t":8,"t2":8,"v":0,"v2":1.2},{"t":12,"t2":12,"v":0,"v2":1.2},{"t":16,"t2":16,"v":0,"v2":1.2},{"t":20,"t2":20,"v":0,"v2":1.2},{"t":24,"t2":24,"v":0,"v2":1.2},{"t":28,"t2":28,"v":0,"v2":1.2},{"t":32,"t2":32,"v":0,"v2":1.2},{"t":36,"t2":36,"v":0,"v2":1.2},{"t":40,"t2":40,"v":0,"v2":1.2},{"t":44,"t2":44,"v":0,"v2":1.2},{"t":48,"t2":48,"v":0,"v2":1.2},{"t":0,"t2":48,"v":0.2,"v2":0.2},{"t":0,"t2":48,"v":0.4,"v2":0.4},{"t":0,"t2":48,"v":0.6,"v2":0.6},{"t":0,"t2":48,"v":0.8,"v2":0.8},{"t":0,"t2":48,"v":1,"v2":1},{"t":0,"t2":48,"v":1.2,"v2":1.2}]},"mark":{"type":"rule","color":"#c4c4c4","strokeWidth":1},"encoding":{"x2":{"field":"t2"},"y2":{"field":"v2"}}},
{"data":{"values":[
{"s":"WT","t":0,"v":0.31},{"s":"WT","t":0.3,"v":0.37},{"s":"WT","t":1,"v":0.39},{"s":"WT","t":1.7,"v":0.42},{"s":"WT","t":3,"v":0.55},{"s":"WT","t":4,"v":0.63},{"s":"WT","t":5,"v":0.72},{"s":"WT","t":6,"v":0.82},{"s":"WT","t":7,"v":0.9},{"s":"WT","t":8,"v":0.96},{"s":"WT","t":9,"v":0.99},{"s":"WT","t":10,"v":1},{"s":"WT","t":11,"v":1},{"s":"WT","t":12,"v":0.98},{"s":"WT","t":14,"v":0.92},{"s":"WT","t":16,"v":0.84},{"s":"WT","t":18,"v":0.76},{"s":"WT","t":20,"v":0.67},{"s":"WT","t":22,"v":0.59},{"s":"WT","t":24,"v":0.51},{"s":"WT","t":26,"v":0.44},{"s":"WT","t":28,"v":0.38},{"s":"WT","t":30,"v":0.32},{"s":"WT","t":32,"v":0.27},{"s":"WT","t":34,"v":0.23},{"s":"WT","t":36,"v":0.19},{"s":"WT","t":38,"v":0.15},{"s":"WT","t":40,"v":0.12},{"s":"WT","t":42,"v":0.1},{"s":"WT","t":44,"v":0.08},{"s":"WT","t":46,"v":0.07},{"s":"WT","t":48,"v":0.06},
{"s":"S90A","t":0,"v":0.02},{"s":"S90A","t":1,"v":0.02},{"s":"S90A","t":2,"v":0.03},{"s":"S90A","t":4,"v":0.07},{"s":"S90A","t":6,"v":0.14},{"s":"S90A","t":8,"v":0.21},{"s":"S90A","t":10,"v":0.25},{"s":"S90A","t":12,"v":0.265},{"s":"S90A","t":14,"v":0.25},{"s":"S90A","t":16,"v":0.22},{"s":"S90A","t":18,"v":0.195},{"s":"S90A","t":20,"v":0.175},{"s":"S90A","t":24,"v":0.14},{"s":"S90A","t":28,"v":0.11},{"s":"S90A","t":32,"v":0.095},{"s":"S90A","t":36,"v":0.08},{"s":"S90A","t":40,"v":0.065},{"s":"S90A","t":44,"v":0.055},{"s":"S90A","t":48,"v":0.05}
]},"mark":{"type":"line","strokeWidth":3,"interpolate":"monotone"},"encoding":{"color":{"field":"s","type":"nominal","legend":null}}},
{"data":{"values":[{"s":"WT","t":26.6,"v":0.846},{"s":"WT","t":36.5,"v":0.846},{"s":"S90A","t":26.6,"v":0.667},{"s":"S90A","t":36.5,"v":0.667}]},"mark":{"type":"line","strokeWidth":3},"encoding":{"color":{"field":"s","type":"nominal","legend":null}}},
{"data":{"values":[{"t":37,"v":0.846,"l":"WT"},{"t":37,"v":0.667,"l":"S90A"}]},"mark":{"type":"text","align":"left","fontSize":15.5,"fontWeight":"bold","color":"#111111"},"encoding":{"text":{"field":"l"}}},
{"data":{"values":[{"t":11.5,"v":1.08,"l":"ARE-Luc"}]},"mark":{"type":"text","fontSize":18,"fontWeight":"bold","color":"#111111"},"encoding":{"text":{"field":"l"}}},
{"data":{"values":[{"t":27.5,"v":1.279,"l":"BMAL1"}]},"mark":{"type":"text","align":"right","fontSize":18,"fontStyle":"italic","color":"#333333"},"encoding":{"text":{"field":"l"}}},
{"data":{"values":[{"t":28.7,"v":1.279,"l":"(−/−)"}]},"mark":{"type":"text","align":"left","fontSize":18,"color":"#333333"},"encoding":{"text":{"field":"l"}}}
]},

{"encoding":{"x":{"field":"t","type":"quantitative","scale":{"domain":[0,48],"range":[563.3,725.7],"nice":false},"axis":{"orient":"bottom","offset":-63,"values":[0,8,16,24,32,40,48],"title":"Time post H₂O₂ treatment (h)","titleX":630,"titleY":31}},"y":{"field":"v","type":"quantitative","scale":{"domain":[0,1.2],"range":[934,750.7],"nice":false},"axis":{"orient":"left","offset":-563.3,"values":[0,0.2,0.4,0.6,0.8,1,1.2],"format":"~g","title":"Normalized bioluminescence","titleX":-41,"titleY":850}}},
"layer":[
{"data":{"values":[{"t":4,"t2":4,"v":0,"v2":1.2},{"t":8,"t2":8,"v":0,"v2":1.2},{"t":12,"t2":12,"v":0,"v2":1.2},{"t":16,"t2":16,"v":0,"v2":1.2},{"t":20,"t2":20,"v":0,"v2":1.2},{"t":24,"t2":24,"v":0,"v2":1.2},{"t":28,"t2":28,"v":0,"v2":1.2},{"t":32,"t2":32,"v":0,"v2":1.2},{"t":36,"t2":36,"v":0,"v2":1.2},{"t":40,"t2":40,"v":0,"v2":1.2},{"t":44,"t2":44,"v":0,"v2":1.2},{"t":48,"t2":48,"v":0,"v2":1.2},{"t":0,"t2":48,"v":0.2,"v2":0.2},{"t":0,"t2":48,"v":0.4,"v2":0.4},{"t":0,"t2":48,"v":0.6,"v2":0.6},{"t":0,"t2":48,"v":0.8,"v2":0.8},{"t":0,"t2":48,"v":1,"v2":1},{"t":0,"t2":48,"v":1.2,"v2":1.2}]},"mark":{"type":"rule","color":"#c4c4c4","strokeWidth":1},"encoding":{"x2":{"field":"t2"},"y2":{"field":"v2"}}},
{"data":{"values":[
{"s":"WT","t":0.5,"v":0.15},{"s":"WT","t":1.5,"v":0.13},{"s":"WT","t":2,"v":0.2},{"s":"WT","t":3,"v":0.3},{"s":"WT","t":4,"v":0.42},{"s":"WT","t":5,"v":0.56},{"s":"WT","t":6,"v":0.68},{"s":"WT","t":7,"v":0.8},{"s":"WT","t":8,"v":0.9},{"s":"WT","t":9,"v":0.97},{"s":"WT","t":10,"v":1},{"s":"WT","t":11,"v":0.99},{"s":"WT","t":12,"v":0.93},{"s":"WT","t":13,"v":0.84},{"s":"WT","t":14,"v":0.74},{"s":"WT","t":16,"v":0.55},{"s":"WT","t":18,"v":0.41},{"s":"WT","t":20,"v":0.31},{"s":"WT","t":22,"v":0.235},{"s":"WT","t":24,"v":0.18},{"s":"WT","t":28,"v":0.115},{"s":"WT","t":32,"v":0.08},{"s":"WT","t":36,"v":0.06},{"s":"WT","t":40,"v":0.045},{"s":"WT","t":44,"v":0.035},{"s":"WT","t":48,"v":0.03},
{"s":"T142A","t":0.5,"v":0.13},{"s":"T142A","t":1.5,"v":0.12},{"s":"T142A","t":2,"v":0.17},{"s":"T142A","t":3,"v":0.35},{"s":"T142A","t":4,"v":0.52},{"s":"T142A","t":5,"v":0.65},{"s":"T142A","t":6,"v":0.74},{"s":"T142A","t":7,"v":0.78},{"s":"T142A","t":8,"v":0.8},{"s":"T142A","t":9,"v":0.78},{"s":"T142A","t":10,"v":0.72},{"s":"T142A","t":11,"v":0.63},{"s":"T142A","t":12,"v":0.53},{"s":"T142A","t":13,"v":0.45},{"s":"T142A","t":14,"v":0.38},{"s":"T142A","t":16,"v":0.28},{"s":"T142A","t":18,"v":0.22},{"s":"T142A","t":20,"v":0.17},{"s":"T142A","t":22,"v":0.135},{"s":"T142A","t":24,"v":0.11},{"s":"T142A","t":28,"v":0.08},{"s":"T142A","t":32,"v":0.06},{"s":"T142A","t":36,"v":0.045},{"s":"T142A","t":40,"v":0.035},{"s":"T142A","t":44,"v":0.03},{"s":"T142A","t":48,"v":0.025}
]},"mark":{"type":"line","strokeWidth":3,"interpolate":"monotone"},"encoding":{"color":{"field":"s","type":"nominal","legend":null}}},
{"data":{"values":[{"s":"WT","t":21.9,"v":0.85},{"s":"WT","t":32,"v":0.85},{"s":"T142A","t":21.9,"v":0.67},{"s":"T142A","t":32,"v":0.67}]},"mark":{"type":"line","strokeWidth":3},"encoding":{"color":{"field":"s","type":"nominal","legend":null}}},
{"data":{"values":[{"t":32.4,"v":0.85,"l":"WT"},{"t":32.4,"v":0.67,"l":"T142A"}]},"mark":{"type":"text","align":"left","fontSize":15.5,"fontWeight":"bold","color":"#111111"},"encoding":{"text":{"field":"l"}}},
{"data":{"values":[{"t":15.5,"v":1.067,"l":"ARE-Luc"}]},"mark":{"type":"text","fontSize":18,"fontWeight":"bold","color":"#111111"},"encoding":{"text":{"field":"l"}}},
{"data":{"values":[{"t":24.3,"v":1.28,"l":"HSF1"}]},"mark":{"type":"text","align":"right","fontSize":18,"fontStyle":"italic","color":"#333333"},"encoding":{"text":{"field":"l"}}},
{"data":{"values":[{"t":25.5,"v":1.28,"l":"(−/−)"}]},"mark":{"type":"text","align":"left","fontSize":18,"color":"#333333"},"encoding":{"text":{"field":"l"}}}
]}
]}
